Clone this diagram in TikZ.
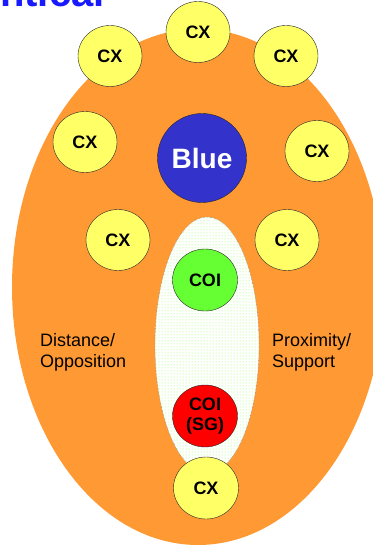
\documentclass[tikz,border=0pt]{standalone}
\usepackage{fontspec}
\setmainfont{Liberation Sans}
\usepackage{tikz}
\usetikzlibrary{shapes.geometric}
\usetikzlibrary{patterns}
\definecolor{fieldorange}{RGB}{255,153,51}
\definecolor{cxyellow}{RGB}{255,255,102}
\definecolor{blueside}{RGB}{51,51,204}
\definecolor{coigreen}{RGB}{102,255,51}
\definecolor{coired}{RGB}{255,0,0}
\definecolor{headblue}{RGB}{25,25,255}
\definecolor{dotgreen}{RGB}{150,255,90}

\begin{document}
\begin{tikzpicture}[x=1pt,y=-1pt]
        \useasboundingbox (0,0) rectangle (372,545);
        % heading, mostly off the top
        \node[anchor=base west, inner sep=0, text=headblue,
              font=\fontsize{40}{40}\selectfont\bfseries] (head) at (0,7) {ntical};
        % the big orange field
        \fill[fieldorange] (198,287) ellipse [x radius=186pt, y radius=258pt];
        \begin{scope}[every node/.style={ellipse,draw=black!85,thin,fill=cxyellow,
                      minimum width=64pt,minimum height=61pt,inner sep=0,
                      font=\fontsize{18}{18}\selectfont\bfseries}]
            \node (cxtop) at (198,32) {CX};
            \node (cxtl) at (110,56) {CX};
            \node (cxtr) at (286,56) {CX};
            \node (cxml) at (85,142) {CX};
            \node (cxmr) at (317,151) {CX};
            \node (cxll) at (118,240) {CX};
            \node (cxlr) at (287,240) {CX};
        \end{scope}
        \node[circle,draw=black!85,thin,fill=blueside,minimum size=89pt,inner sep=0,
              text=white,font=\fontsize{28}{28}\selectfont\bfseries] (blue) at (202,158) {Blue};
        % dotted inner zone
        \draw[draw=black!60,densely dotted,preaction={fill=white},
              pattern=dots,pattern color=dotgreen] (207,345) ellipse [x radius=52pt, y radius=128pt];
        \begin{scope}[every node/.style={ellipse,draw=black!85,thin,
                      minimum width=65pt,minimum height=62pt,inner sep=0,align=center,
                      font=\fontsize{18}{20}\selectfont\bfseries}]
            \node[fill=coigreen] (coi) at (205,280) {COI};
            \node[fill=coired] (coisg) at (205,416) {COI\\(SG)};
            \node[fill=cxyellow] (cxbot) at (206,488) {CX};
        \end{scope}
        \begin{scope}[every node/.style={anchor=north west,align=left,inner sep=0,
                      font=\fontsize{18}{21}\selectfont}]
            \node (dist) at (40,333) {Distance/\\Opposition};
            \node (prox) at (272,333) {Proximity/\\Support};
        \end{scope}
        \end{tikzpicture}
\end{document}
